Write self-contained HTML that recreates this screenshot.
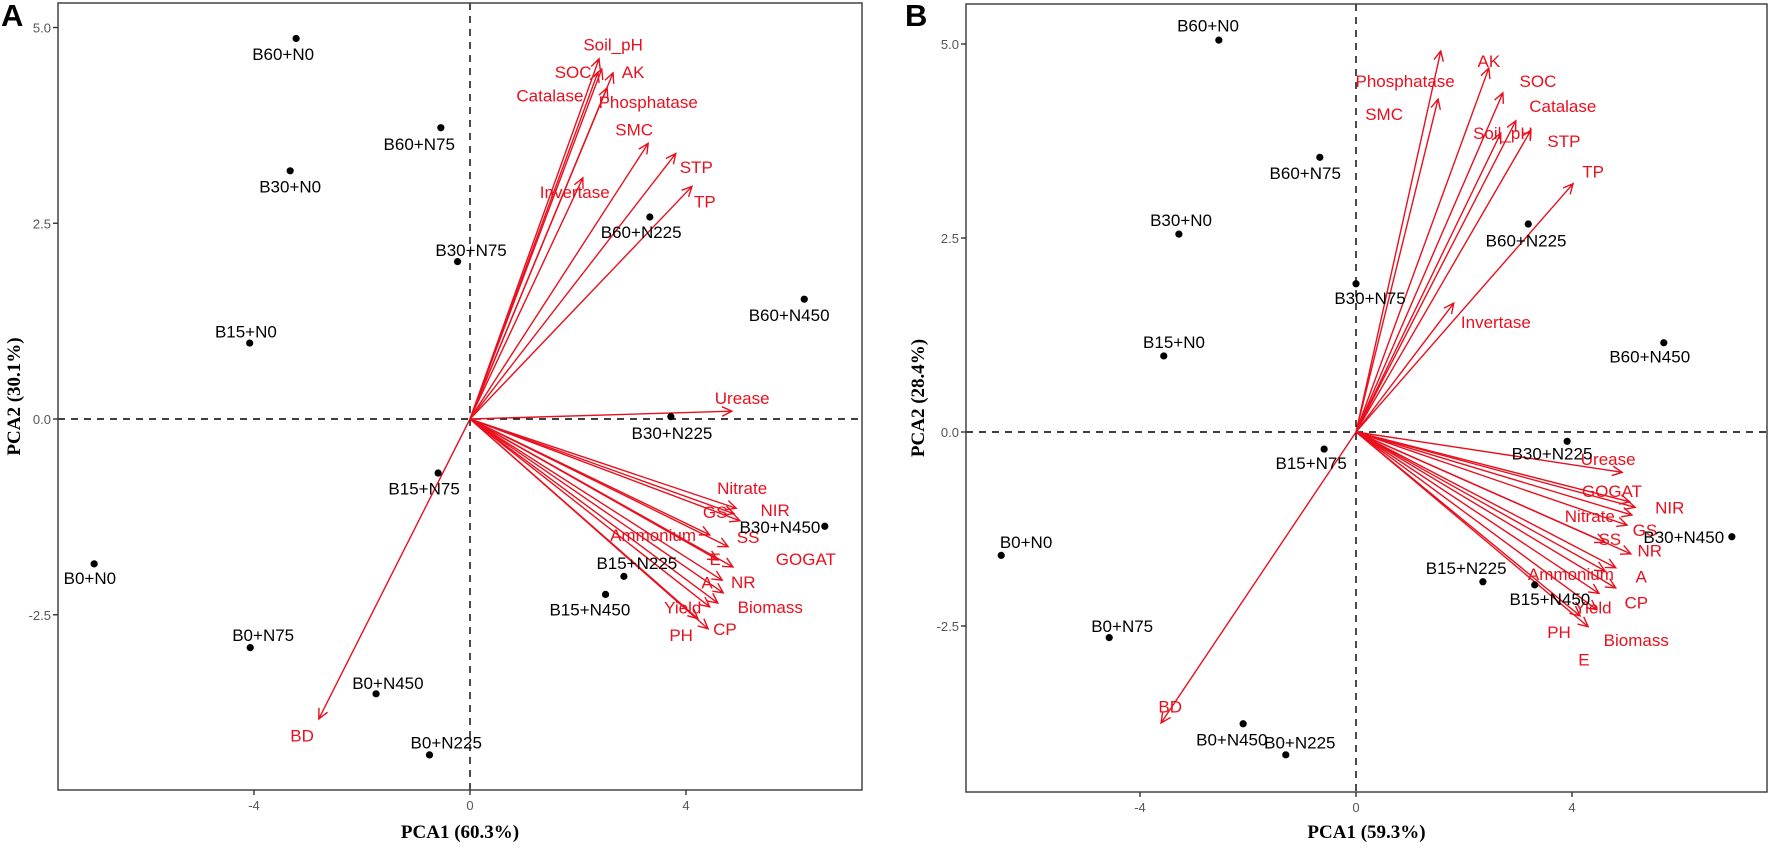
<!DOCTYPE html>
<html><head><meta charset="utf-8">
<style>
html,body{margin:0;padding:0;background:#fff;}
svg{display:block;font-family:"Liberation Sans",Arial,sans-serif;}
.pt{font-size:17px;fill:#000;}
.vl{font-size:17px;fill:#e8101e;}
.tk{font-size:13px;fill:#555;}
.ttl{font-family:"Liberation Serif",serif;font-weight:bold;font-size:19px;fill:#000;}
</style></head>
<body>
<svg id="chart" width="1772" height="850" viewBox="0 0 1772 850"></svg>
<script>
// ---- Panel A data ----
const aPtNames=["B60+N0","B60+N75","B30+N0","B30+N75","B15+N0","B60+N225","B60+N450","B30+N225","B30+N450","B15+N75","B0+N0","B15+N225","B15+N450","B0+N75","B0+N450","B0+N225"];
const aPtX=[-3.22,-0.54,-3.33,-0.23,-4.08,3.33,6.19,3.72,6.57,-0.59,-6.96,2.85,2.51,-4.07,-1.74,-0.75];
const aPtY=[4.86,3.72,3.17,2.01,0.97,2.58,1.53,0.03,-1.37,-0.69,-1.85,-2.01,-2.24,-2.92,-3.51,-4.29];
const aPtLX=[-3.46,-0.94,-3.33,0.02,-4.15,3.17,5.91,3.74,5.74,-0.85,-7.04,3.09,2.22,-3.83,-1.52,-0.44];
const aPtLY=[4.66,3.51,2.97,2.16,1.12,2.39,1.33,-0.18,-1.38,-0.89,-2.03,-1.84,-2.43,-2.76,-3.37,-4.13];
const aVarNames=["Soil_pH","SOC","AK","Catalase","Phosphatase","SMC","STP","TP","Invertase","Urease","Nitrate","GS","NIR","SS","Ammonium","E","GOGAT","NR","A","Biomass","Yield","PH","CP","BD"];
const aVarX=[2.39,2.44,2.65,2.37,2.54,3.30,3.81,4.11,2.09,4.85,4.93,4.89,5.00,4.78,4.44,4.59,4.87,4.67,4.69,4.59,4.44,4.22,4.41,-2.80];
const aVarY=[4.60,4.47,4.42,4.43,4.23,3.52,3.39,2.97,3.08,0.10,-1.14,-1.21,-1.30,-1.63,-1.48,-1.80,-1.89,-2.06,-2.22,-2.35,-2.40,-2.55,-2.68,-3.83];
const aVarLX=[2.65,1.91,3.02,1.48,3.30,3.04,4.19,4.35,1.94,5.04,5.04,4.54,5.65,5.15,3.39,4.54,6.22,5.06,4.39,5.56,3.94,3.91,4.72,-3.11];
const aVarLY=[4.78,4.43,4.43,4.13,4.05,3.70,3.22,2.78,2.90,0.27,-0.88,-1.19,-1.16,-1.51,-1.48,-1.79,-1.79,-2.08,-2.09,-2.40,-2.41,-2.76,-2.68,-4.04];

// ---- Panel B data ----
const bPtNames=["B60+N0","B60+N75","B30+N0","B30+N75","B15+N0","B60+N225","B60+N450","B30+N225","B15+N75","B30+N450","B0+N0","B15+N225","B15+N450","B0+N75","B0+N450","B0+N225"];
const bPtX=[-2.54,-0.67,-3.28,0.00,-3.56,3.19,5.70,3.91,-0.59,6.96,-6.57,2.35,3.31,-4.57,-2.09,-1.30];
const bPtY=[5.05,3.54,2.55,1.91,0.98,2.68,1.15,-0.12,-0.22,-1.35,-1.59,-1.93,-1.97,-2.65,-3.76,-4.16];
const bPtLX=[-2.74,-0.94,-3.24,0.26,-3.37,3.15,5.44,3.63,-0.83,6.07,-6.11,2.04,3.59,-4.33,-2.30,-1.04];
const bPtLY=[5.24,3.34,2.73,1.73,1.16,2.47,0.97,-0.28,-0.40,-1.35,-1.42,-1.75,-2.15,-2.50,-3.96,-4.00];
const bVarNames=["Phosphatase","SMC","AK","SOC","Catalase","Soil_pH","STP","TP","Invertase","Urease","GOGAT","NIR","Nitrate","GS","SS","NR","Ammonium","A","CP","Yield","Biomass","PH","E","BD"];
const bVarX=[1.57,1.52,2.46,2.72,2.96,2.68,3.24,4.02,1.81,4.93,5.07,5.17,5.11,5.02,4.61,5.09,4.61,4.81,4.81,4.50,4.46,4.15,4.30,-3.61];
const bVarY=[4.91,4.29,4.69,4.37,4.01,3.85,3.89,3.20,1.66,-0.52,-0.90,-0.97,-1.07,-1.20,-1.42,-1.57,-1.79,-1.75,-2.01,-2.08,-2.29,-2.37,-2.51,-3.75];
const bVarLX=[0.91,0.52,2.46,3.37,3.83,2.72,3.85,4.39,2.59,4.67,4.74,5.81,4.33,5.35,4.70,5.44,3.98,5.28,5.19,4.39,5.19,3.76,4.22,-3.44];
const bVarLY=[4.52,4.10,4.78,4.52,4.20,3.85,3.75,3.36,1.42,-0.35,-0.76,-0.97,-1.08,-1.26,-1.38,-1.53,-1.83,-1.86,-2.20,-2.26,-2.68,-2.58,-2.93,-3.54];

const xTicks=[-4,0,4];
const yTicks=[5.0,2.5,0.0,-2.5];

const NS="http://www.w3.org/2000/svg";
const svg=document.getElementById('chart');
function mk(tag,attrs,parent){const e=document.createElementNS(NS,tag);for(const k in attrs)e.setAttribute(k,attrs[k]);(parent||svg).appendChild(e);return e;}
function lin(d0,d1,r0,r1){return v=>r0+(v-d0)*(r1-r0)/(d1-d0);}

function panel(cfg){
  const g=mk('g',{});
  
  
  const X=lin(0,4,cfg.x0,cfg.x0+4*cfg.sx), Y=lin(0,2.5,cfg.y0,cfg.y0-2.5*cfg.sy);
  const L=cfg.left,R=cfg.right,T=cfg.top,B=cfg.bottom;
  // dashed zero lines
  const hz=mk('line',{x1:L,x2:R,y1:Y(0),y2:Y(0),stroke:'#000','stroke-width':1.4,'stroke-dasharray':'7,6'},g);
  
  
  const vz=mk('line',{x1:X(0),x2:X(0),y1:T,y2:B,stroke:'#000','stroke-width':1.4,'stroke-dasharray':'7,6'},g);
  
  
  // arrows
  for(let i=0;i<cfg.vn.length;i++){
    const x2=X(cfg.vx[i]),y2=Y(cfg.vy[i]),x1=X(0),y1=Y(0);
    const ang=Math.atan2(y2-y1,x2-x1),h=11,a=0.45;
    const ar=mk('path',{d:`M${x1},${y1}L${x2},${y2}M${x2-h*Math.cos(ang-a)},${y2-h*Math.sin(ang-a)}L${x2},${y2}L${x2-h*Math.cos(ang+a)},${y2-h*Math.sin(ang+a)}`,stroke:'#e8101e','stroke-width':1.4,fill:'none'},g);
    
    
  }
  for(let i=0;i<cfg.vn.length;i++){
    const t=mk('text',{x:X(cfg.vlx[i]),y:Y(cfg.vly[i])+6,'text-anchor':'middle',class:'vl'},g);
    t.textContent=cfg.vn[i];
    
    
  }
  // points
  for(let i=0;i<cfg.pn.length;i++){
    const c=mk('circle',{cx:X(cfg.px[i]),cy:Y(cfg.py[i]),r:3.6,fill:'#000'},g);
    
    
    const t=mk('text',{x:X(cfg.plx[i]),y:Y(cfg.ply[i])+6,'text-anchor':'middle',class:'pt'},g);
    t.textContent=cfg.pn[i];
    
    
  }
  // frame
  const fr=mk('rect',{x:L,y:T,width:R-L,height:B-T,fill:'none',stroke:'#444','stroke-width':1.5},g);
  
  
  // ticks
  xTicks.forEach(v=>{
    mk('line',{x1:X(v),x2:X(v),y1:B,y2:B+5,stroke:'#333','stroke-width':1.4},g);
    const t=mk('text',{x:X(v),y:B+20,'text-anchor':'middle',class:'tk'},g);
    t.textContent=String(v);
    
    
  });
  yTicks.forEach(v=>{
    mk('line',{x1:L-5,x2:L,y1:Y(v),y2:Y(v),stroke:'#333','stroke-width':1.4},g);
    const t=mk('text',{x:L-7,y:Y(v)+5,'text-anchor':'end',class:'tk'},g);
    t.textContent=v.toFixed(1);
    
    
  });
  const xt=mk('text',{x:(L+R)/2,y:838,'text-anchor':'middle',class:'ttl'},g);
  xt.textContent=cfg.xt;
  
  
  const yx=cfg.ytx,yy=(T+B)/2;
  const yt=mk('text',{x:yx,y:yy,'text-anchor':'middle',class:'ttl',transform:`rotate(-90 ${yx} ${yy})`},g);
  yt.textContent=cfg.yt;
  
  
  const pl=mk('text',{x:cfg.letterX,y:26,'font-size':31,'font-weight':'bold',fill:'#000'},g);
  pl.textContent=cfg.letter;
  
  
}

panel({key:'a',letter:'A',letterX:1,left:58,right:862,top:3,bottom:790,x0:470,sx:54,y0:419,sy:78.3,
  xt:'PCA1 (60.3%)',yt:'PCA2 (30.1%)',ytx:20,
  pn:aPtNames,px:aPtX,py:aPtY,plx:aPtLX,ply:aPtLY,vn:aVarNames,vx:aVarX,vy:aVarY,vlx:aVarLX,vly:aVarLY});
panel({key:'b',letter:'B',letterX:905,left:966,right:1767,top:4,bottom:792,x0:1356,sx:54,y0:432,sy:77.6,
  xt:'PCA1 (59.3%)',yt:'PCA2 (28.4%)',ytx:924,
  pn:bPtNames,px:bPtX,py:bPtY,plx:bPtLX,ply:bPtLY,vn:bVarNames,vx:bVarX,vy:bVarY,vlx:bVarLX,vly:bVarLY});
</script>
</body></html>
